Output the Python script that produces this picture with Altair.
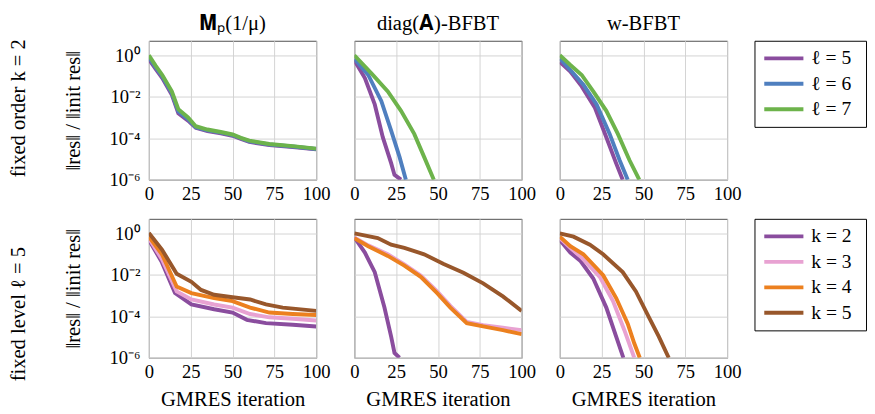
import altair as alt
import pandas as pd

FONT = "Liberation Serif"

COL_TITLES = ["𝐌ₚ(1/μ)", "diag(𝐀)-BFBT", "w-BFBT"]
TOP_LABELS = ["ℓ = 5", "ℓ = 6", "ℓ = 7"]
BOT_LABELS = ["k = 2", "k = 3", "k = 4", "k = 5"]
TOP_COLORS = ["#8a4d9e", "#4f7fbf", "#6db34b"]
BOT_COLORS = ["#8a4d9e", "#e8a2d2", "#ec801f", "#98572b"]
X_TICKS = [0, 25, 50, 75, 100]
Y_TICKS = [1e-6, 1e-4, 1e-2, 1]

# (iteration, log10 residual)
# top row: fixed order k = 2
MP_L5 = [(0, -0.2), (4, -0.65), (8, -1.1), (13.7, -1.9), (17.6, -2.8), (23.4, -3.15), (28, -3.5), (35, -3.65), (43, -3.76), (50, -3.88), (55, -4.03), (60, -4.18), (72, -4.33), (86, -4.42), (100, -4.53)]
MP_L6 = [(0, -0.1), (4, -0.58), (8, -1.02), (13.7, -1.82), (17.6, -2.7), (23.4, -3.08), (28, -3.47), (35, -3.62), (43, -3.73), (50, -3.85), (55, -4.0), (60, -4.15), (72, -4.3), (86, -4.4), (100, -4.52)]
MP_L7 = [(0, 0.0), (4, -0.5), (8, -0.95), (13.7, -1.74), (17.6, -2.6), (23.4, -3.0), (28, -3.42), (35, -3.58), (43, -3.7), (50, -3.82), (55, -3.98), (60, -4.12), (72, -4.28), (86, -4.38), (100, -4.5)]

DG_L5 = [(0, -0.24), (6.3, -1.1), (12.2, -2.37), (17, -3.95), (22, -5.2), (24, -5.77), (27.9, -6.0)]
DG_L6 = [(0, -0.16), (8.3, -0.95), (16.1, -2.2), (22, -3.63), (27, -4.9), (30.8, -6.0)]
DG_L7 = [(0, 0.0), (10.2, -0.87), (20, -1.74), (27.9, -2.68), (35.8, -3.79), (41.7, -4.9), (47.5, -6.0)]

WB_L5 = [(0, -0.32), (6.3, -0.79), (13.1, -1.5), (21, -2.53), (27.8, -3.95), (33.7, -5.21), (37.6, -6.0)]
WB_L6 = [(0, -0.16), (6.3, -0.71), (14.1, -1.42), (22, -2.37), (29.8, -3.79), (35.7, -5.05), (40.6, -6.0)]
WB_L7 = [(0, 0.0), (6.3, -0.47), (13.1, -0.95), (20, -1.74), (27.8, -2.68), (34.7, -3.79), (41.6, -5.05), (47.5, -6.0)]

# bottom row: fixed level l = 5
MP_K2 = [(0, -0.31), (7.8, -1.4), (15.6, -2.88), (25.4, -3.43), (39, -3.66), (50, -3.82), (58.6, -4.17), (70, -4.33), (86, -4.41), (100, -4.49)]
MP_K3 = [(0, -0.23), (7.8, -1.25), (16.6, -2.8), (25.4, -3.19), (39, -3.43), (50, -3.58), (60.5, -3.89), (72, -4.05), (86, -4.12), (100, -4.2)]
MP_K4 = [(0, -0.16), (7.8, -1.01), (16.6, -2.57), (25.4, -2.88), (39, -3.12), (50, -3.27), (60.5, -3.58), (72, -3.82), (86, -3.89), (100, -3.94)]
MP_K5 = [(0, 0.02), (7.8, -0.78), (16.6, -1.95), (25.4, -2.34), (31.2, -2.73), (39, -2.96), (50, -3.08), (60.5, -3.19), (70, -3.43), (80, -3.58), (100, -3.74)]

DG_K2 = [(0, -0.19), (6.3, -0.93), (12.2, -1.87), (18, -3.58), (22, -4.98), (24, -5.77), (27, -6.0)]
DG_K3 = [(0, -0.2), (8.3, -0.58), (20, -1.01), (29.9, -1.5), (39.7, -2.04), (49.5, -2.8), (57.4, -3.5), (67.2, -4.27), (77, -4.43), (88.8, -4.55), (100, -4.67)]
DG_K4 = [(0, -0.23), (8.3, -0.62), (20, -1.09), (29.9, -1.56), (39.7, -2.1), (49.5, -2.88), (57.4, -3.58), (67.2, -4.33), (77, -4.49), (88.8, -4.67), (100, -4.86)]
DG_K5 = [(0, 0.0), (14, -0.23), (22, -0.55), (29.9, -0.7), (41.7, -1.01), (53.4, -1.48), (65.2, -1.9), (77, -2.41), (88.8, -3.04), (100, -3.74)]

WB_K2 = [(0, -0.31), (6.3, -0.93), (12.2, -1.32), (20, -2.18), (27.8, -3.58), (33.7, -4.98), (38, -6.0)]
WB_K3 = [(0, -0.23), (6.3, -0.7), (13.1, -1.17), (23.9, -2.1), (31.8, -3.27), (38.6, -4.67), (44.5, -6.0)]
WB_K4 = [(0, -0.16), (6.3, -0.62), (14.1, -1.01), (25.9, -2.02), (33.7, -3.12), (40.6, -4.36), (44.5, -5.3), (47.8, -6.0)]
WB_K5 = [(0, 0.0), (8.2, -0.16), (18, -0.55), (25.9, -1.01), (37.6, -1.87), (45.5, -2.8), (53.3, -4.05), (59.2, -4.98), (65.1, -6.0)]

TOP_ROW = [[MP_L5, MP_L6, MP_L7], [DG_L5, DG_L6, DG_L7], [WB_L5, WB_L6, WB_L7]]
BOT_ROW = [[MP_K2, MP_K3, MP_K4, MP_K5], [DG_K2, DG_K3, DG_K4, DG_K5], [WB_K2, WB_K3, WB_K4, WB_K5]]

LABEL_EXPR = ("datum.value > 0.1 ? '10⁰' : datum.value > 0.001 ? '10⁻²' : "
              "datum.value > 0.00001 ? '10⁻⁴' : '10⁻⁶'")

W, H = 171, 142


def col_title(text):
    return alt.TitleParams(text, fontSize=21, font=FONT, fontWeight="normal", offset=7)


def panel(series, labels, colors, field, col, bottom, title=None):
    rows = []
    for lab, pts in zip(labels, series):
        for x, e in pts:
            rows.append({"it": x, "res": 10 ** e, field: lab})
    df = pd.DataFrame(rows)
    if col == 0:
        yaxis = alt.Axis(values=Y_TICKS, labelExpr=LABEL_EXPR, title="‖res‖ / ‖init res‖",
                         titlePadding=26, labelPadding=9, titleFontSize=21)
    else:
        yaxis = alt.Axis(values=Y_TICKS, labels=False, title=None)
    xaxis = alt.Axis(values=X_TICKS, title="GMRES iteration" if bottom else None, labelPadding=5,
                     titlePadding=8, labelFlush=False, titleFontSize=21)
    ch = alt.Chart(df).mark_line(strokeWidth=4, clip=True, strokeCap="butt").encode(
        x=alt.X("it:Q", scale=alt.Scale(domain=[0, 100], nice=False), axis=xaxis),
        y=alt.Y("res:Q", scale=alt.Scale(type="log", domain=[1e-6, 5], nice=False), axis=yaxis),
        color=alt.Color(f"{field}:N", scale=alt.Scale(domain=labels, range=colors), legend=None),
    ).properties(width=W, height=H)
    if title:
        ch = ch.properties(title=col_title(title))
    return ch


def legend_box(labels, colors, with_title):
    df = pd.DataFrame({"lab": labels, "col": colors})
    h = round(26 * (len(labels) - 1 + 1.38))
    y = alt.Y("lab:N", axis=None, scale=alt.Scale(type="point", domain=labels, padding=0.69))
    base = alt.Chart(df)
    lines = base.mark_rule(strokeWidth=4).encode(
        x=alt.value(10), x2=alt.value(50), y=y,
        color=alt.Color("col:N", scale=None, legend=None))
    texts = base.mark_text(align="left", baseline="middle", fontSize=20, font=FONT, color="black").encode(
        x=alt.value(58), y=y, text="lab:N")
    lg = alt.layer(lines, texts).properties(width=114, height=h,
                                            view=alt.ViewBackground(stroke="black", strokeWidth=1))
    if with_title:
        # empty title keeps the legend box level with the plot tops in the titled row
        lg = lg.properties(title=col_title("\u200b"))
    return lg


def row(series_rows, labels, colors, field, bottom, row_title, titles=None):
    cells = [panel(series_rows[i], labels, colors, field, i, bottom,
                   titles[i] if titles else None) for i in range(3)]
    panels = alt.hconcat(*cells, spacing=18)
    return alt.hconcat(panels, legend_box(labels, colors, titles is not None), spacing=12).properties(
        title=alt.TitleParams(row_title, orient="left", anchor="middle", fontSize=21,
                              font=FONT, fontWeight="normal", offset=34))


top = row(TOP_ROW, TOP_LABELS, TOP_COLORS, "level", False, "fixed order k = 2", COL_TITLES)
bot = row(BOT_ROW, BOT_LABELS, BOT_COLORS, "order", True, "fixed level ℓ = 5")

chart = alt.vconcat(top, bot, spacing=14).resolve_scale(color="independent").properties(
    padding={"left": 0, "top": 0, "right": 0, "bottom": 0}
).configure(font=FONT).configure_view(stroke="#4d4d4d", strokeWidth=1).configure_axis(
    domain=False, ticks=False, grid=True, gridColor="#d3d3d3", gridWidth=1,
    labelFont=FONT, labelFontSize=19, labelColor="black", titleFont=FONT, titleFontSize=20,
    titleFontWeight="normal", titleColor="black"
)

chart.save("out.html", embed_options={"renderer": "svg", "actions": False})
